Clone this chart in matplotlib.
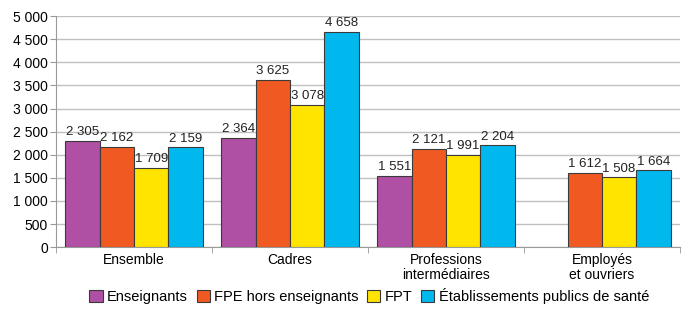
import numpy as np
import matplotlib.pyplot as plt

plt.rcParams['font.family'] = ['Liberation Sans', 'DejaVu Sans']

# Données
categories = ["Ensemble", "Cadres", "Professions\nintermédiaires", "Employés\net ouvriers"]
series = ["Enseignants", "FPE hors enseignants", "FPT", "Établissements publics de santé"]
enseignants = [2305, 2364, 1551, np.nan]
fpe = [2162, 3625, 2121, 1612]
fpt = [1709, 3078, 1991, 1508]
eps = [2159, 4658, 2204, 1664]
couleurs = ["#B050A4", "#F05A22", "#FFE400", "#00B8EE"]

def fmt(v):
    return f"{int(v):,}".replace(",", " ")

fig = plt.figure(figsize=(6.84, 3.09), dpi=100)
ax = fig.add_axes([0.082, 0.200, 0.912, 0.748])

x = np.arange(len(categories))
w = 0.22
for i, (vals, nom, c) in enumerate(zip([enseignants, fpe, fpt, eps], series, couleurs)):
    pos = x + (i - 1.5) * w
    ax.bar(pos, vals, w, color=c, edgecolor="#3a3a3a", linewidth=0.8,
           label=nom, zorder=3)
    for xp, v in zip(pos, vals):
        if not np.isnan(v):
            ax.text(xp, v + 60, fmt(v), ha="center", va="bottom", fontsize=9.5,
                    color="#222222", zorder=4)

ax.set_ylim(0, 5000)
ax.set_xlim(-0.5, 3.5)
yt = np.arange(0, 5001, 500)
ax.set_yticks(yt)
ax.set_yticklabels([fmt(v) for v in yt], fontsize=10)
ax.set_xticks(x)
ax.set_xticklabels(categories, fontsize=10, linespacing=1.1)
ax.set_xticks(np.arange(-0.5, 4, 1), minor=True)
ax.tick_params(axis="x", which="major", length=0, pad=4)
ax.tick_params(axis="x", which="minor", length=4, color="#999999")
ax.tick_params(axis="y", length=4, color="#999999", pad=2)
ax.grid(axis="y", color="#c0c0c0", linewidth=1, zorder=0)
for s in ["top", "right"]:
    ax.spines[s].set_visible(False)
ax.spines["left"].set_color("#999999")
ax.spines["bottom"].set_color("#999999")

fig.legend(loc="lower center", bbox_to_anchor=(0.54, -0.025), ncol=4, frameon=False,
           fontsize=10.5, handlelength=0.9, handleheight=0.9, handletextpad=0.3,
           columnspacing=0.6)

fig.savefig("out.png", dpi=100)
